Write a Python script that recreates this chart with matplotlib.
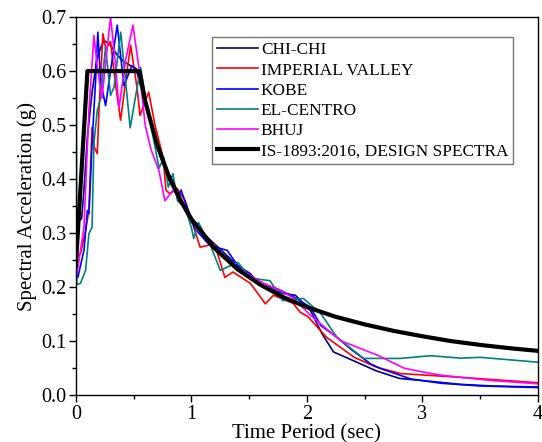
import matplotlib
matplotlib.use("Agg")
import matplotlib.pyplot as plt
from matplotlib.ticker import MultipleLocator

plt.rcParams['font.family'] = ['Liberation Serif', 'DejaVu Serif']

labels = ["CHI-CHI", "IMPERIAL VALLEY", "KOBE", "EL-CENTRO", "BHUJ",
          "IS-1893:2016, DESIGN SPECTRA"]
colors = ["#000080", "#ff0000", "#0000ff", "#008080", "#ff00ff", "#000000"]

chichi_t = [0, 0.01, 0.05, 0.07, 0.1, 0.14, 0.18, 0.21, 0.243, 0.3, 0.36, 0.416,
            0.474, 0.52, 0.6, 0.7, 0.8, 0.9, 1.0, 1.2, 1.4, 1.6, 1.8, 1.9, 2.03,
            2.13, 2.23, 2.4, 2.6, 2.8, 3.0, 3.33, 3.6, 4.0]
chichi_v = [0.26, 0.32, 0.327, 0.38, 0.48, 0.56, 0.62, 0.64, 0.657, 0.648, 0.629,
            0.617, 0.61, 0.605, 0.54, 0.46, 0.40, 0.36, 0.32, 0.28, 0.24, 0.205,
            0.188, 0.185, 0.157, 0.114, 0.08, 0.064, 0.045, 0.031, 0.027, 0.020,
            0.017, 0.015]

imperial_t = [0, 0.01, 0.04, 0.08, 0.113, 0.14, 0.16, 0.185, 0.2, 0.234, 0.26,
              0.30, 0.34, 0.387, 0.43, 0.474, 0.53, 0.555, 0.63, 0.685, 0.755,
              0.78, 0.815, 0.875, 0.945, 1.01, 1.075, 1.2, 1.29, 1.36, 1.51, 1.6,
              1.64, 1.71, 1.88, 1.94, 2.01, 2.17, 2.41, 2.6, 2.81, 3.33, 4.0]
imperial_v = [0.25, 0.256, 0.262, 0.30, 0.342, 0.496, 0.459, 0.447, 0.527, 0.669,
              0.64, 0.655, 0.58, 0.509, 0.58, 0.648, 0.568, 0.518, 0.561, 0.50,
              0.44, 0.379, 0.373, 0.383, 0.36, 0.318, 0.274, 0.28, 0.218, 0.228,
              0.207, 0.181, 0.169, 0.185, 0.17, 0.154, 0.145, 0.107, 0.07, 0.052,
              0.040, 0.033, 0.023]

kobe_t = [0, 0.017, 0.07, 0.1, 0.113, 0.14, 0.17, 0.19, 0.215, 0.257, 0.3, 0.358,
          0.416, 0.485, 0.53, 0.6, 0.7, 0.8, 0.86, 0.885, 0.91, 1.03, 1.16, 1.31,
          1.40, 1.51, 1.6, 1.71, 1.86, 2.03, 2.12, 2.26, 2.38, 2.55, 2.64, 2.9,
          3.16, 3.5, 4.0]
kobe_v = [0.24, 0.218, 0.268, 0.342, 0.336, 0.466, 0.58, 0.672, 0.58, 0.536, 0.6,
          0.685, 0.573, 0.61, 0.6, 0.55, 0.47, 0.41, 0.379, 0.36, 0.38, 0.308,
          0.277, 0.268, 0.24, 0.225, 0.203, 0.2, 0.185, 0.163, 0.129, 0.107,
          0.085, 0.058, 0.049, 0.03, 0.022, 0.017, 0.014]

elcentro_t = [0, 0.008, 0.04, 0.084, 0.113, 0.14, 0.156, 0.185, 0.214, 0.257,
              0.30, 0.33, 0.388, 0.47, 0.56, 0.615, 0.685, 0.72, 0.76, 0.80,
              0.84, 0.88, 0.95, 1.0, 1.02, 1.06, 1.16, 1.25, 1.4, 1.51, 1.6,
              1.68, 1.79, 1.97, 2.12, 2.26, 2.49, 2.81, 3.07, 3.33, 3.5, 4.0]
elcentro_v = [0.95, 0.205, 0.207, 0.231, 0.299, 0.311, 0.466, 0.527, 0.55, 0.645,
              0.555, 0.57, 0.672, 0.495, 0.607, 0.536, 0.46, 0.42, 0.44, 0.385,
              0.41, 0.36, 0.345, 0.31, 0.29, 0.32, 0.28, 0.231, 0.246, 0.218,
              0.214, 0.212, 0.175, 0.179, 0.151, 0.107, 0.068, 0.068, 0.073,
              0.0685, 0.07, 0.061]

bhuj_t = [0, 0.01, 0.07, 0.113, 0.156, 0.19, 0.226, 0.26, 0.30, 0.34, 0.373, 0.43,
          0.494, 0.55, 0.6, 0.65, 0.72, 0.77, 0.845, 0.93, 1.02, 1.2, 1.4, 1.6,
          1.8, 1.88, 2.03, 2.29, 2.61, 2.84, 3.0, 3.16, 3.33, 3.6, 4.0]
bhuj_v = [0.23, 0.225, 0.311, 0.527, 0.666, 0.60, 0.55, 0.62, 0.70, 0.62, 0.531,
          0.62, 0.685, 0.60, 0.50, 0.455, 0.415, 0.36, 0.38, 0.348, 0.323, 0.275,
          0.235, 0.21, 0.19, 0.18, 0.148, 0.101, 0.074, 0.05, 0.043, 0.037, 0.033,
          0.027, 0.021]

design_t = [0, 0.1, 0.55, 0.6, 0.7, 0.8, 0.9, 1.0, 1.2, 1.4, 1.6, 1.8, 2.0, 2.25,
            2.5, 2.75, 3.0, 3.25, 3.5, 3.75, 4.0]
design_v = [0.24, 0.6, 0.6, 0.544, 0.466, 0.408, 0.363, 0.326, 0.272, 0.233,
            0.204, 0.181, 0.163, 0.145, 0.131, 0.119, 0.109, 0.100, 0.093, 0.087,
            0.082]

series = [(chichi_t, chichi_v), (imperial_t, imperial_v), (kobe_t, kobe_v),
          (elcentro_t, elcentro_v), (bhuj_t, bhuj_v), (design_t, design_v)]

fig = plt.figure(figsize=(5.42, 4.42), dpi=100)
ax = fig.add_axes([0.140, 0.106, 0.8526, 0.8554])

for (t, v), lab, c in zip(series, labels, colors):
    lw = 3.0 if c == "#000000" else 1.2
    ax.plot(t, v, color=c, lw=lw, label=lab, zorder=3 if lw > 2 else 2)

ax.set_xlim(0, 4)
ax.set_ylim(0, 0.7)
ax.xaxis.set_major_locator(MultipleLocator(1))
ax.xaxis.set_minor_locator(MultipleLocator(0.5))
ax.yaxis.set_major_locator(MultipleLocator(0.1))
ax.yaxis.set_minor_locator(MultipleLocator(0.05))
ax.yaxis.set_major_formatter(matplotlib.ticker.FormatStrFormatter('%.1f'))
ax.tick_params(which='major', direction='out', length=5, width=1, labelsize=14.5,
               pad=2)
ax.tick_params(which='minor', direction='out', length=3, width=1)
for s in ax.spines.values():
    s.set_linewidth(1.0)

ax.set_xlabel("Time Period (sec)", fontsize=15, labelpad=0)
ax.set_ylabel("Spectral Acceleration (g)", fontsize=15, labelpad=3)

leg = ax.legend(loc='upper left', bbox_to_anchor=(0.294, 0.947), fontsize=12.4,
                frameon=True, fancybox=False, handlelength=2.4, handletextpad=0.15,
                borderpad=0.3, labelspacing=0.24, borderaxespad=0)
leg.get_frame().set_edgecolor('#555555')
leg.get_frame().set_linewidth(1.0)

fig.savefig("out.png", dpi=100)
